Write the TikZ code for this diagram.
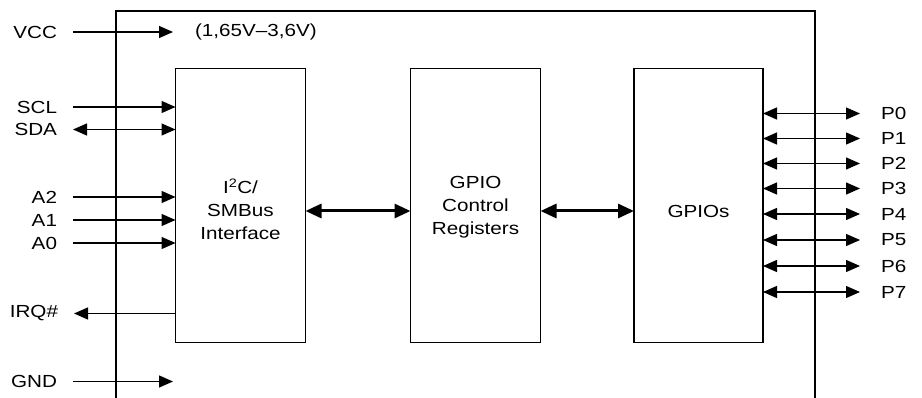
\documentclass[tikz,border=0pt]{standalone}
\usepackage{fontspec}
\setmainfont{Liberation Sans}[FakeStretch=1.18]
\usetikzlibrary{arrows.meta}
\begin{document}
\begin{tikzpicture}[x=1pt,y=-1pt,
  font=\fontsize{17.5}{23}\selectfont,
  every node/.style={inner sep=0pt, outer sep=0pt},
  line/.style={line width=1.3pt},
  pin/.style={line width=1.3pt, -{Triangle[length=14pt,width=12pt]}},
  bipin/.style={line width=1.3pt, {Triangle[length=14pt,width=12pt]}-{Triangle[length=14pt,width=12pt]}},
  bus/.style={line width=3pt, {Triangle[length=16pt,width=14pt]}-{Triangle[length=16pt,width=14pt]}},
  block/.style={draw, line width=1.3pt, anchor=north west},
  btext/.style={align=center},
  lbl/.style={anchor=east},
  plbl/.style={anchor=west}]
\useasboundingbox (0,0) rectangle (922,398);
% outer chip outline (open at bottom)
\coordinate (obl) at (116,398);
\coordinate (otl) at (116,11);
\coordinate (otr) at (815,11);
\coordinate (obr) at (815,398);
\draw[line] (obl) -- (otl) -- (otr) -- (obr);
% blocks
\node[block, minimum width=130pt, minimum height=274pt] (i2c) at (175.5,68.5) {};
\node[btext] at (240.5,209) (i2ct) {I\textsuperscript{2}C/\\SMBus\\Interface};
\node[block, minimum width=130pt, minimum height=274pt] (reg) at (410.5,68.5) {};
\node[btext] at (475.5,207) (regt) {GPIO\\Control\\Registers};
\node[block, minimum width=129pt, minimum height=274pt] (gpio) at (634,68.5) {};
\node[btext] at (698.5,211) (gpiot) {GPIOs};
% power
\node[lbl] (vcc) at (57,32) {VCC};
\coordinate (vccS) at (73,32);
\coordinate (vccE) at (173,32);
\draw[pin] (vccS) -- (vccE);
\node[anchor=west] (vrange) at (195,32) {(1,65V–3,6V)};
\node[lbl] (gnd) at (57,381.5) {GND};
\coordinate (gndS) at (73,381.5);
\coordinate (gndE) at (173,381.5);
\draw[pin] (gndS) -- (gndE);
% I2C pins
\node[lbl] (scl) at (57,107) {SCL};
\coordinate (sclS) at (73,107);
\draw[pin] (sclS) -- (sclS -| i2c.west);
\node[lbl] (sda) at (57,129.5) {SDA};
\coordinate (sdaS) at (73,129.5);
\draw[bipin] (sdaS) -- (sdaS -| i2c.west);
\node[lbl] (a2) at (57,197) {A2};
\coordinate (a2S) at (73,197);
\draw[pin] (a2S) -- (a2S -| i2c.west);
\node[lbl] (a1) at (57,220) {A1};
\coordinate (a1S) at (73,220);
\draw[pin] (a1S) -- (a1S -| i2c.west);
\node[lbl] (a0) at (57,243) {A0};
\coordinate (a0S) at (73,243);
\draw[pin] (a0S) -- (a0S -| i2c.west);
\node[lbl] (irq) at (58,313.5) {IRQ\#};
\coordinate (irqE) at (74,313.5);
\draw[pin] (irqE -| i2c.west) -- (irqE);
% internal buses
\draw[bus] (i2c.east |- 0,211) -- (reg.west |- 0,211);
\draw[bus] (reg.east |- 0,211) -- (gpio.west |- 0,211);
% GPIO pins
\foreach \i/\y in {0/113.5,1/138.5,2/163.5,3/188.5,4/214,5/240,6/266,7/292}{
  \coordinate (pE\i) at (860,\y);
  \draw[bipin] (gpio.east |- pE\i) -- (pE\i);
  \node[plbl] (p\i) at (881,\y) {P\i};
}
\end{tikzpicture}
\end{document}
